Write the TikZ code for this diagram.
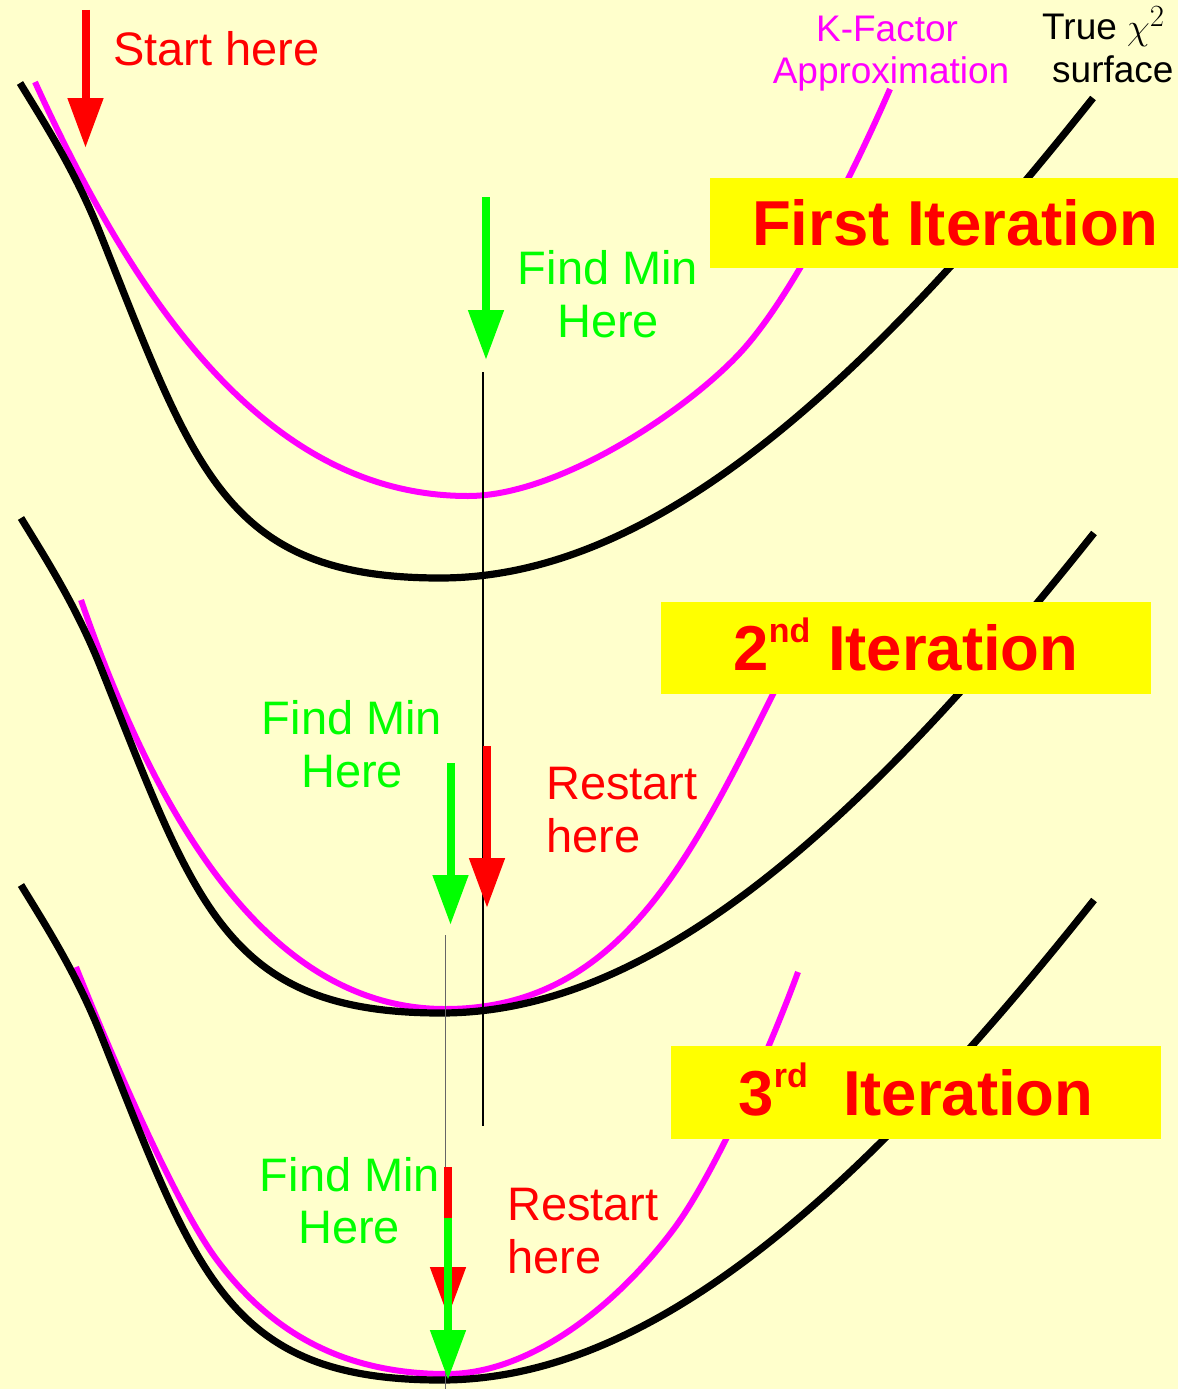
\documentclass[tikz,border=0pt]{standalone}
\usepackage{graphicx}
\usepackage{fontspec}
\setmainfont{Liberation Sans}
\usetikzlibrary{arrows.meta}
\definecolor{bg}{HTML}{FFFFCC}
\definecolor{kmag}{HTML}{FF00FF}
\definecolor{kgreen}{HTML}{00FF00}
\definecolor{kred}{HTML}{FF0000}
\definecolor{kyellow}{HTML}{FFFF00}
\newcommand{\bigchi}{\scalebox{1.487}{\fontsize{24.88}{28}\selectfont$\chi^2$}}
\begin{document}
\begin{tikzpicture}[x=1pt,y=-1pt,
  truecurve/.style={line width=7.2pt, black},
  kcurve/.style={line width=6pt, kmag},
  bigarrow/.style={line width=8pt, -{Triangle[width=34pt,length=50pt]}},
  guide/.style={line width=1.4pt},
  itbox/.style={fill=kyellow, inner sep=0pt, text height=45pt, text depth=0pt,
    font=\fontsize{63.5}{70}\selectfont\bfseries, text=kred},
  lbl/.style={font=\fontsize{47}{53}\selectfont, inner sep=0pt},
  smalllbl/.style={font=\fontsize{37}{41}\selectfont, inner sep=0pt},
]
\useasboundingbox (0,0) rectangle (1178,1389);
\fill[bg] (0,0) rectangle (1178,1389);
\clip (0,0) rectangle (1178,1389);

% K-factor approximations
\draw[kcurve] (35,82) .. controls (145,324) and (278,496) .. (468,496)
  .. controls (558,496) and (685,412) .. (740,353)
  .. controls (795,294) and (860,158) .. (890,89);
\draw[kcurve] (81,600) .. controls (161,832) and (275,1009) .. (445,1009)
  .. controls (625,1009) and (695,850) .. (785,670);
\draw[kcurve] (76,967) .. controls (116,1067) and (177,1206.4) .. (217,1260)
  .. controls (267,1327) and (337,1374) .. (447,1374)
  .. controls (527,1374) and (613,1310) .. (673,1230)
  .. controls (713,1177) and (768,1054) .. (798,972);

% true chi2 surfaces
\draw[truecurve] (20,83) .. controls (45,124) and (75,170.5) .. (100,233)
  .. controls (195,470.5) and (225,578) .. (440,578)
  .. controls (640,578) and (843,413) .. (1093,98);
\draw[truecurve, shift={(1,435)}] (20,83) .. controls (45,124) and (75,170.5) .. (100,233)
  .. controls (195,470.5) and (225,578) .. (440,578)
  .. controls (640,578) and (843,413) .. (1093,98);
\draw[truecurve, shift={(1,802)}] (20,83) .. controls (45,124) and (75,170.5) .. (100,233)
  .. controls (195,470.5) and (225,578) .. (440,578)
  .. controls (640,578) and (843,413) .. (1093,98);

% guide lines
\coordinate (ga) at (483,372);
\coordinate (gb) at (483,1126);
\coordinate (ha) at (445.5,935);
\coordinate (hb) at (445.5,1389);
\draw[guide, black] (ga) -- (gb);
\draw[guide, black!60] (ha) -- (hb);

% iteration boxes
\node[itbox, minimum width=490pt, minimum height=90pt] (it1) at (955,223) {First Iteration};
\node[itbox, minimum width=490pt, minimum height=92pt] (it2) at (906,648) {2\raisebox{28pt}{\fontsize{34}{34}\selectfont nd} Iteration};
\node[itbox, minimum width=490pt, minimum height=93pt] (it3) at (916,1092.5) {3\raisebox{28pt}{\fontsize{34}{34}\selectfont rd}\ \ Iteration};

% arrows
\coordinate (s0) at (85.5,10);   \coordinate (s1) at (85.5,148);
\coordinate (g10) at (486,197);  \coordinate (g11) at (486,360);
\coordinate (g20) at (450.5,763); \coordinate (g21) at (450.5,925);
\coordinate (r20) at (487,746);  \coordinate (r21) at (487,908);
\coordinate (r30) at (448,1167); \coordinate (r31) at (448,1317);
\coordinate (g30) at (448,1218); \coordinate (g31) at (448,1380);
\draw[bigarrow, kred] (s0) -- (s1);
\draw[bigarrow, kgreen] (g10) -- (g11);
\draw[bigarrow, kgreen] (g20) -- (g21);
\draw[bigarrow, kred] (r20) -- (r21);
\draw[bigarrow, kred] (r30) -- (r31);
\draw[bigarrow, kgreen] (g30) -- (g31);

% labels
\node[lbl, text=kred, anchor=base west] (start) at (113,66) {Start here};
\node[smalllbl, text=kmag, anchor=base] (kf1) at (887,42) {K-Factor};
\node[smalllbl, text=kmag, anchor=base] (kf2) at (891,83) {Approximation};
\node[smalllbl, anchor=base west] (tc1) at (1042,40) {True \bigchi};
\node[smalllbl, anchor=base west] (tc2) at (1052,82) {surface};

\node[lbl, text=kgreen, anchor=base] (fm1a) at (608,284) {Find Min};
\node[lbl, text=kgreen, anchor=base] (fm1b) at (608,337) {Here};
\node[lbl, text=kgreen, anchor=base] (fm2a) at (352,734) {Find Min};
\node[lbl, text=kgreen, anchor=base] (fm2b) at (352,787) {Here};
\node[lbl, text=kgreen, anchor=base] (fm3a) at (350,1191) {Find Min};
\node[lbl, text=kgreen, anchor=base] (fm3b) at (349,1243) {Here};

\node[lbl, text=kred, anchor=base west] (rs2a) at (546,799) {Restart};
\node[lbl, text=kred, anchor=base west] (rs2b) at (546,852) {here};
\node[lbl, text=kred, anchor=base west] (rs3a) at (507,1220) {Restart};
\node[lbl, text=kred, anchor=base west] (rs3b) at (507,1273) {here};
\end{tikzpicture}
\end{document}
